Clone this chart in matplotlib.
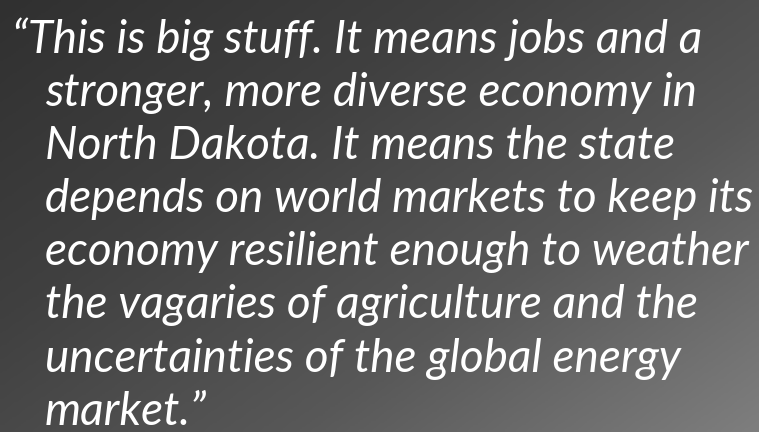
import numpy as np
import matplotlib.pyplot as plt
from matplotlib.colors import LinearSegmentedColormap

# texto da citação, uma linha por entrada
linhas = [
    "\u201cThis is big stuff. It means jobs and a",
    "stronger, more diverse economy in",
    "North Dakota. It means the state",
    "depends on world markets to keep its",
    "economy resilient enough to weather",
    "the vagaries of agriculture and the",
    "uncertainties of the global energy",
    "market.\u201d",
]
recuos = [12, 45, 45, 45, 45, 45, 45, 45]
base_y = [53, 106, 159, 212, 265, 318, 372, 425]

largura, altura = 759, 432
fig = plt.figure(figsize=(largura / 100, altura / 100), dpi=100)
ax = fig.add_axes([0, 0, 1, 1])
ax.set_xlim(0, largura)
ax.set_ylim(altura, 0)
ax.axis("off")

# fundo em degradê diagonal (escuro em cima à esquerda, claro embaixo à direita)
xx, yy = np.meshgrid(np.linspace(0, 1, 300), np.linspace(0, 1, 200))
grad = 0.55 * xx + 0.45 * yy
cmap = LinearSegmentedColormap.from_list(
    "fundo", ["#303030", "#404040", "#585858", "#7e7e7e"])
ax.imshow(grad, cmap=cmap, extent=(0, largura, altura, 0), aspect="auto",
          interpolation="bilinear", zorder=0)

for txt, x, y in zip(linhas, recuos, base_y):
    ax.text(x, y, txt, color="white", fontsize=33, family="Lato",
            style="italic", va="baseline", ha="left", zorder=2)

fig.savefig("out.png", dpi=100)
